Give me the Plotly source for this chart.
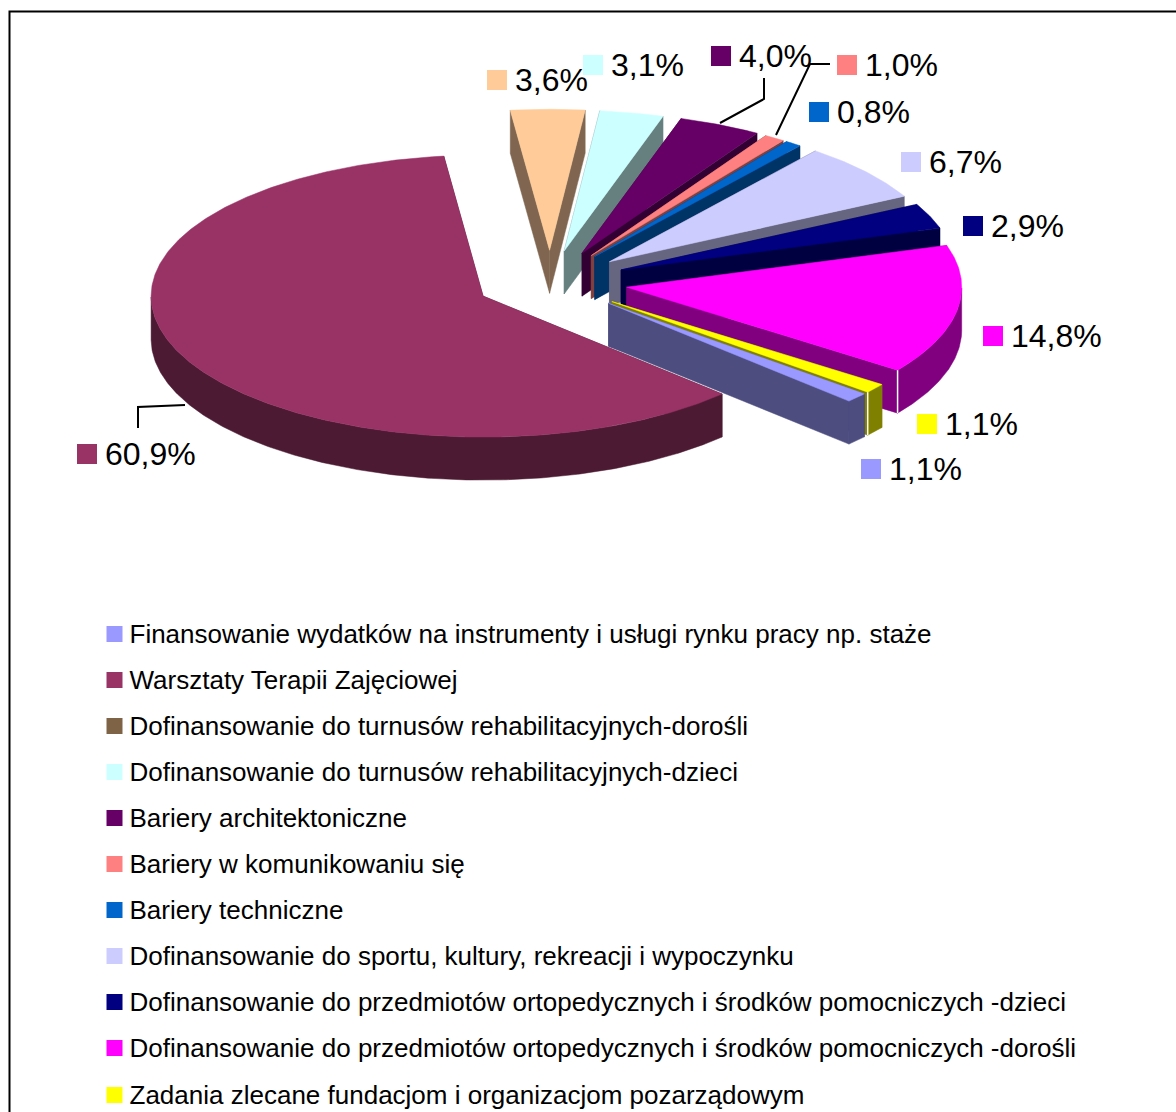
import math
import plotly.graph_objects as go

# ---- data ----
categories = [
    "Finansowanie wydatków na instrumenty i usługi rynku pracy np. staże",
    "Warsztaty Terapii Zajęciowej",
    "Dofinansowanie do turnusów rehabilitacyjnych-dorośli",
    "Dofinansowanie do turnusów rehabilitacyjnych-dzieci",
    "Bariery architektoniczne",
    "Bariery w komunikowaniu się",
    "Bariery techniczne",
    "Dofinansowanie do sportu, kultury, rekreacji i wypoczynku",
    "Dofinansowanie do przedmiotów ortopedycznych i środków pomocniczych -dzieci",
    "Dofinansowanie do przedmiotów ortopedycznych i środków pomocniczych -dorośli",
    "Zadania zlecane fundacjom i organizacjom pozarządowym",
]
values = [1.1, 60.9, 3.6, 3.1, 4.0, 1.0, 0.8, 6.7, 2.9, 14.8, 1.1]

# ---- styles ----
top_colors = ["#9999FF", "#993366", "#FFCC99", "#CCFFFF", "#660066", "#FF8080",
              "#0066CC", "#CCCCFF", "#000080", "#FF00FF", "#FFFF00"]
side_colors = ["#4D4D80", "#4D1A33", "#806650", "#668080", "#330033", "#804040",
               "#003366", "#666680", "#000040", "#800080", "#808000"]
legend_colors = ["#9999FF", "#993366", "#7F6347", "#CCFFFF", "#660066", "#FF8080",
                 "#0066CC", "#CCCCFF", "#000080", "#FF00FF", "#FFFF00"]

# ---- pie geometry (pixels of the page) ----
CX, CY, RY = 550, 282, 141
BASE_RX, EXPLODE, DEPTH = 332, 0.225, 43
START_ANGLE = 40
# small per-slice corrections for the perspective of the original 3-D drawing
slice_dx = [3, 0, 0, -1, 1, 0, 0, 2, 2, 3, 3]
slice_rx = [334, 332, 332, 332, 333, 332, 332, 333, 334, 335, 334]
white_corner = [9, 10]   # slices with a light seam where the cut face meets the rim

# ---- label layout: swatch centre x/y, in category order ----
label_x = [871, 87, 497, 593, 721, 847, 819, 911, 973, 993, 927]
label_y = [469, 454, 80, 65, 56, 65, 112, 162, 226, 336, 424]
legend_y = [634, 680, 726, 772, 818, 864, 910, 956, 1002, 1048, 1095]
LEGEND_X, LEGEND_TEXT_X = 114.5, 129.5
LABEL_FONT, LEGEND_FONT = 32, 26
TEXT_DROP = 2.5
FONT = "Liberation Sans, Arial, sans-serif"

leaders = [
    [(185, 405), (138, 407), (138, 428)],
    [(720, 123), (764, 99), (764, 78)],
    [(776, 135), (810, 64), (830, 64)],
]


def point(cx, cy, rx, deg, dy=0.0):
    r = math.radians(deg)
    return cx + rx * math.cos(r), cy + RY * math.sin(r) + dy


def polygon(pts, color):
    xs = [p[0] for p in pts] + [pts[0][0]]
    ys = [p[1] for p in pts] + [pts[0][1]]
    return go.Scatter(x=xs, y=ys, mode="lines", fill="toself", fillcolor=color,
                      line=dict(color=color, width=0.5), hoverinfo="skip", showlegend=False)


# angular extents from the values
slices = []
a = START_ANGLE
for i, v in enumerate(values):
    b = a + v * 3.6
    slices.append((i, a, b))
    a = b

fig = go.Figure()

# paint back to front
for i, a0, a1 in sorted(slices, key=lambda s: math.sin(math.radians((s[1] + s[2]) / 2))):
    mid = math.radians((a0 + a1) / 2)
    rx = slice_rx[i]
    ax = CX + EXPLODE * BASE_RX * math.cos(mid) + slice_dx[i]
    ay = CY + EXPLODE * RY * math.sin(mid)
    steps = max(2, int((a1 - a0) * 2))
    arc = [a0 + (a1 - a0) * k / steps for k in range(steps + 1)]
    for deg in (a0, a1):
        p = point(ax, ay, rx, deg)
        fig.add_trace(polygon([(ax, ay), p, (p[0], p[1] + DEPTH), (ax, ay + DEPTH)], side_colors[i]))
    front = [d for d in arc if math.sin(math.radians(d)) >= 0]
    if len(front) > 1:
        upper = [point(ax, ay, rx, d) for d in front]
        lower = [point(ax, ay, rx, d, DEPTH) for d in reversed(front)]
        fig.add_trace(polygon(upper + lower, side_colors[i]))
    fig.add_trace(polygon([(ax, ay)] + [point(ax, ay, rx, d) for d in arc], top_colors[i]))
    if i in white_corner:
        p = point(ax, ay, rx, a1)
        fig.add_trace(go.Scatter(x=[p[0], p[0]], y=[p[1], p[1] + DEPTH], mode="lines",
                                 line=dict(color="#FFFFFF", width=1.5),
                                 hoverinfo="skip", showlegend=False))

# data labels with their key squares
fig.add_trace(go.Scatter(
    x=label_x, y=label_y, mode="markers", hoverinfo="skip", showlegend=False,
    marker=dict(symbol="square", size=20, color=top_colors, line=dict(width=0))))
fig.add_trace(go.Scatter(
    x=[x + 18 for x in label_x], y=[y + TEXT_DROP for y in label_y], mode="text",
    hoverinfo="skip", showlegend=False,
    text=[f"{v:.1f}%".replace(".", ",") for v in values],
    textposition="middle right",
    textfont=dict(family=FONT, size=LABEL_FONT, color="#000000")))

# legend
fig.add_trace(go.Scatter(
    x=[LEGEND_X] * len(categories), y=legend_y, mode="markers", hoverinfo="skip", showlegend=False,
    marker=dict(symbol="square", size=16, color=legend_colors, line=dict(width=0))))
fig.add_trace(go.Scatter(
    x=[LEGEND_TEXT_X] * len(categories), y=[y + TEXT_DROP for y in legend_y], mode="text",
    hoverinfo="skip", showlegend=False,
    text=categories, textposition="middle right",
    textfont=dict(family=FONT, size=LEGEND_FONT, color="#000000")))

shapes = [dict(type="path", path=" ".join(
    ("M" if k == 0 else "L") + f"{x},{y}" for k, (x, y) in enumerate(pts)),
    line=dict(color="#000000", width=2), xref="x", yref="y") for pts in leaders]
shapes.append(dict(type="path", path="M9.5,1130 L9.5,11.5 L1190,11.5",
                   line=dict(color="#000000", width=2), xref="x", yref="y"))

fig.update_layout(
    width=1176, height=1112, margin=dict(l=0, r=0, t=0, b=0),
    paper_bgcolor="#FFFFFF", plot_bgcolor="#FFFFFF", showlegend=False, shapes=shapes,
    xaxis=dict(range=[0, 1176], visible=False, fixedrange=True),
    yaxis=dict(range=[1112, 0], visible=False, fixedrange=True),
)
fig.write_html("out.html", config=dict(displayModeBar=False),
               post_script="document.body.style.margin='0';document.body.style.overflow='hidden';")
